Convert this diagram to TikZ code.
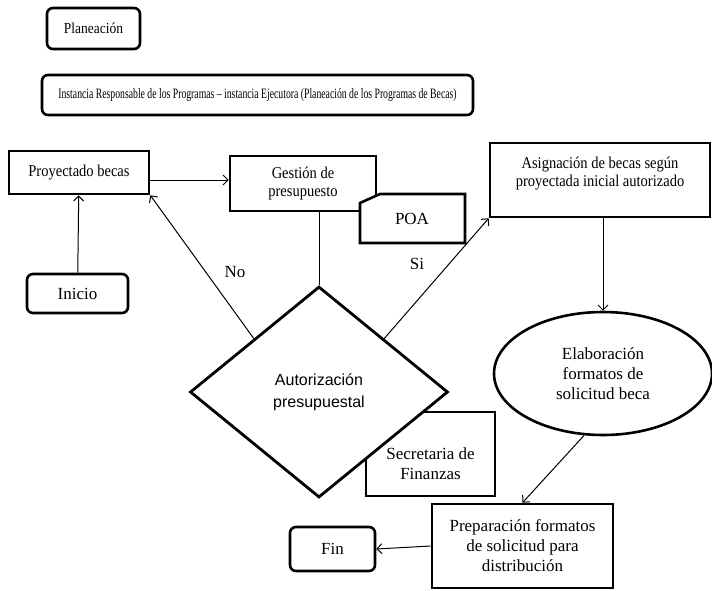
\documentclass[tikz,border=0pt]{standalone}
\usepackage{fontspec}
\setmainfont{Liberation Serif}
\newfontfamily\sansf{Liberation Sans}
\newfontfamily\narrowf{Liberation Serif}[FakeStretch=0.88]
\newfontfamily\condf{Liberation Serif}[FakeStretch=0.68]
\usetikzlibrary{shapes.geometric,arrows.meta}
\begin{document}
\begin{tikzpicture}[x=1pt,y=-1pt,
  box/.style={draw, line width=2.6pt, inner sep=0pt, align=center, fill=white},
  rbox/.style={box, rounded corners=6pt},
  conn/.style={line width=1pt, -{Straight Barb[length=5pt,width=10pt]}},
  plainline/.style={line width=1pt},
  fbig/.style={font=\fontsize{17}{20}\selectfont},
  fmid/.style={font=\narrowf\fontsize{16.5}{18.5}\selectfont},
]
\fill[white] (0,0) rectangle (712,590);
\useasboundingbox (0,0) rectangle (712,590);

\node[rbox, minimum width=93pt, minimum height=41pt, font=\narrowf\fontsize{15.3}{18}\selectfont] (plan) at (93.5,28.5) {Planeación};
\node[rbox, minimum width=431pt, minimum height=40pt, font=\condf\fontsize{14.3}{16}\selectfont] (inst) at (257.5,95) {Instancia Responsable de los Programas – instancia Ejecutora (Planeación de los Programas de Becas)};

\node[box, minimum width=140pt, minimum height=43pt, fmid] (proy) at (79,172.5) {Proyectado becas};
\node[box, minimum width=146pt, minimum height=55pt, fmid] (gest) at (303,183.5) {Gestión de\\presupuesto};
\filldraw[fill=white, line width=2.6pt] (360,203) -- (380,194) -- (465,194) -- (465,243) -- (360,243) -- cycle;
\node[fbig] (poa) at (412,219) {POA};

\node[box, minimum width=220pt, minimum height=74pt,
  label={[fmid, align=center, yshift=6.5pt]center:{Asignación de becas según\\proyectada inicial autorizado}}] (asig) at (600,180) {};

\node[rbox, minimum width=101pt, minimum height=39pt, fbig] (ini) at (77.5,293.5) {Inicio};

\node[box, minimum width=129pt, minimum height=84pt,
  label={[fbig, align=center, yshift=-9.5pt]center:{Secretaria de\\Finanzas}}] (secr) at (430.5,454) {};

\node[diamond, draw, line width=2.8pt, fill=white, minimum width=258pt, minimum height=211pt, inner sep=0pt, aspect=1.22, align=center, font=\sansf\fontsize{16}{22}\selectfont] (dia) at (319,392) {Autorización\\presupuestal};

\node[ellipse, draw, line width=2.6pt, fill=white, minimum width=218pt, minimum height=123pt, inner sep=0pt, align=center, fbig] (elab) at (603,373.5) {Elaboración\\formatos de\\solicitud beca};

\node[box, minimum width=181pt, minimum height=84pt, fbig] (prep) at (522.5,546) {Preparación formatos\\de solicitud para\\distribución};
\node[rbox, minimum width=85pt, minimum height=44pt, fbig] (fin) at (332.5,549) {Fin};

\node[fbig] (no) at (235,272) {No};
\node[fbig] (si) at (417,264) {Si};

\draw[conn] (ini) -- (proy);
\draw[conn] (proy.east |- 0,180) -- (gest.west |- 0,180);
\draw[conn] (dia.north west) -- (proy.south east);
\draw[conn] (dia.north east) -- (asig.south west);
\draw[plainline] (dia.north |- gest.south) -- (dia.north);
\draw[conn] (elab.north |- asig.south) -- (elab.north);
\draw[conn] (elab.-107) -- (prep.north);
\draw[conn] (prep.west) -- (fin.east);
\end{tikzpicture}
\end{document}
